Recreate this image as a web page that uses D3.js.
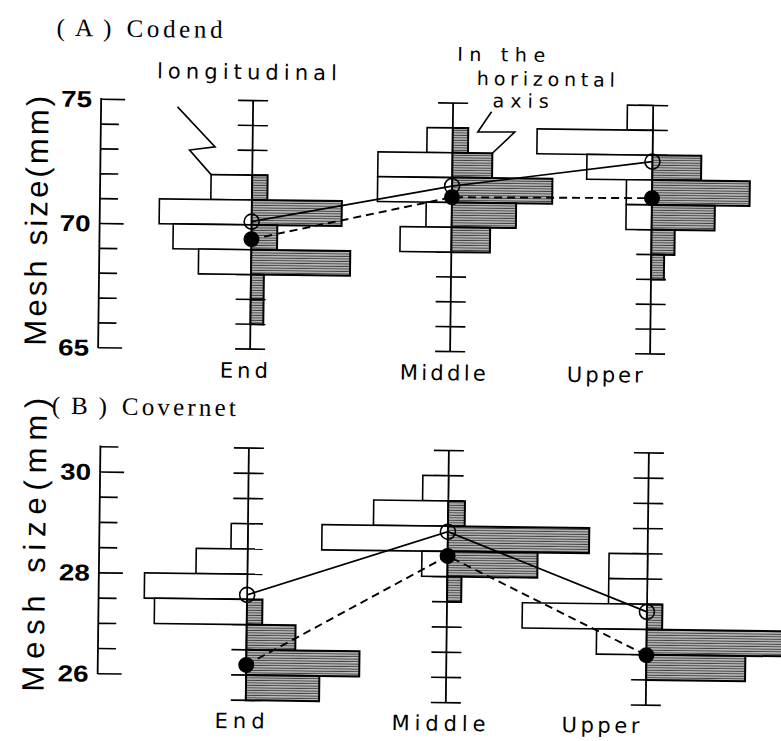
<!DOCTYPE html>
<html>
<head>
<meta charset="utf-8">
<script src="https://cdn.jsdelivr.net/npm/d3@7"></script>
<style>
  html, body { margin: 0; padding: 0; background: #fff; }
  svg { display: block; }
</style>
</head>
<body>
<svg id="chart" width="781" height="741"></svg>
<script>
// Net sections along the x direction
const categories = ["End", "Middle", "Upper"];

// (A) Codend, 1-mm classes: [upper class edge (mm), frequency (%)]
const codendLongitudinal = [
  [[72, 16], [71, 36], [70, 30.5], [69, 20.5]],
  [[74, 10], [73, 29], [72, 29], [71, 10], [70, 20]],
  [[75, 10], [74, 45], [73, 25.5], [72, 10], [71, 10]]
];
const codendHorizontal = [
  [[72, 6], [71, 35], [70, 10], [69, 38.5], [68, 5], [67, 5]],
  [[74, 6], [73, 15.5], [72, 39], [71, 25], [70, 15]],
  [[73, 19], [72, 38], [71, 24.5], [70, 9], [69, 5]]
];
const codendLongMean = [70.13, 71.66, 72.74];
const codendHorizMean = [69.42, 71.21, 71.27];

// (B) Covernet, 0.5-mm classes: [upper class edge (mm), frequency (%)]
const covernetLongitudinal = [
  [[29, 6.5], [28.5, 20], [28, 40], [27.5, 36]],
  [[30, 10], [29.5, 29], [29, 49], [28.5, 10]],
  [[28.5, 15], [28, 15], [27.5, 48.5], [27, 19.5]]
];
const covernetHorizontal = [
  [[27.5, 6], [27, 19], [26.5, 44], [26, 28.5]],
  [[29.5, 6.5], [29, 55], [28.5, 35], [28, 5.5]],
  [[27.5, 6], [27, 54], [26.5, 38.5]]
];
const covernetLongMean = [27.59, 28.89, 27.35];
const covernetHorizMean = [26.2, 28.41, 26.49];

const codendTickLabels = [65, 70, 75];
const covernetTickLabels = [26, 28, 30];

// ---------------------------------------------------------------
const svg = d3.select("#chart");
const defs = svg.append("defs");
const hatch = defs.append("pattern")
  .attr("id", "hatch").attr("patternUnits", "userSpaceOnUse")
  .attr("width", 6).attr("height", 2.5);
hatch.append("rect").attr("width", 6).attr("height", 2.5).attr("fill", "#bcbcbc");
hatch.append("rect").attr("y", 1.5).attr("width", 6).attr("height", 1).attr("fill", "#404040");

// the printed figure sits slightly skewed on the page
const root = svg.append("g").attr("transform", "rotate(0.7 390 400)");

const xs = d3.scaleLinear().domain([0, 100]).range([0, 257]);
const cx = d3.scalePoint().domain(categories).range([249.5, 649.5]);

const sansLabel = "'DejaVu Sans', sans-serif";

const panels = [
  {
    y: d3.scaleLinear().domain([65, 75]).range([350.8, 102.3]),
    step: 1, leftX: 97.5, leftDomain: [65, 75], catDomain: [65, 75],
    labels: codendTickLabels,
    long: codendLongitudinal, horiz: codendHorizontal,
    longMean: codendLongMean, horizMean: codendHorizMean,
    title: ["(A)", "Codend"], titleY: 40, titleLen: 96,
    yTitle: "Mesh size(mm)", yTitleLen: 250, yTitleX: 45, yTitleMid: 225,
    catY: 379.5, catLens: [48, 86, 76]
  },
  {
    y: d3.scaleLinear().domain([25.5, 30.5]).range([702, 449.8]),
    step: 0.5, leftX: 101, leftDomain: [26, 30.5], catDomain: [25.5, 30.5],
    labels: covernetTickLabels,
    long: covernetLongitudinal, horiz: covernetHorizontal,
    longMean: covernetLongMean, horizMean: covernetHorizMean,
    title: ["(B)", "Covernet"], titleY: 418, titleLen: 114,
    yTitle: "Mesh  size(mm)", yTitleLen: 294, yTitleX: 47, yTitleMid: 549,
    catY: 730, catLens: [50, 94, 78]
  }
];

const catShift = [-6, -7, -45];

panels.forEach((p) => {
  const y = p.y;
  const g = root.append("g");
  const eps = p.step / 2;

  // left value axis: ticks to the right of the spine
  const leftTicks = d3.range(p.leftDomain[0], p.leftDomain[1] + eps, p.step);
  const ax = g.append("g").attr("transform", `translate(${p.leftX},0)`)
    .call(d3.axisRight(y).tickValues(leftTicks).tickSize(18).tickSizeOuter(0).tickFormat(""));
  ax.select(".domain").remove();
  ax.selectAll(".tick line")
    .attr("stroke", "#000").attr("stroke-width", 1.7)
    .attr("x2", d => p.labels.includes(d) ? 24 : 18);
  g.append("line")
    .attr("x1", p.leftX).attr("x2", p.leftX)
    .attr("y1", y(p.leftDomain[0]) + 0.8).attr("y2", y(p.leftDomain[1]) - 0.8)
    .attr("stroke", "#000").attr("stroke-width", 1.8);
  g.selectAll("text.tl").data(p.labels).join("text")
    .attr("class", "tl")
    .attr("x", p.leftX - 9).attr("y", d => y(d) + 8.5)
    .attr("text-anchor", "end")
    .attr("font-family", "'Liberation Sans', Arial, sans-serif")
    .attr("font-weight", "bold").attr("font-size", 23)
    .attr("textLength", 31).attr("lengthAdjust", "spacingAndGlyphs")
    .text(d => d);

  // category axes with crossing ticks
  const catTicks = d3.range(p.catDomain[0], p.catDomain[1] + eps, p.step);
  categories.forEach((c, ci) => {
    const x0 = cx(c);
    const cg = g.append("g");
    cg.selectAll("line.ct").data(catTicks).join("line")
      .attr("x1", x0 - 15).attr("x2", x0 + 15)
      .attr("y1", d => y(d)).attr("y2", d => y(d))
      .attr("stroke", "#000").attr("stroke-width", 1.6);
    cg.append("line")
      .attr("x1", x0).attr("x2", x0)
      .attr("y1", y(p.catDomain[0])).attr("y2", y(p.catDomain[1]))
      .attr("stroke", "#000").attr("stroke-width", 1.8);

    // longitudinal: open bars to the left
    cg.selectAll("rect.lb").data(p.long[ci]).join("rect")
      .attr("x", d => x0 - xs(d[1])).attr("width", d => xs(d[1]))
      .attr("y", d => y(d[0])).attr("height", d => y(d[0] - p.step) - y(d[0]))
      .attr("fill", "#fff").attr("stroke", "#000").attr("stroke-width", 1.6);

    // horizontal axis: shaded bars to the right
    cg.selectAll("rect.hb").data(p.horiz[ci]).join("rect")
      .attr("x", x0).attr("width", d => xs(d[1]))
      .attr("y", d => y(d[0])).attr("height", d => y(d[0] - p.step) - y(d[0]))
      .attr("fill", "url(#hatch)").attr("stroke", "#000").attr("stroke-width", 2);

    g.append("text")
      .attr("x", x0 + catShift[ci]).attr("y", p.catY)
      .attr("text-anchor", "middle")
      .attr("font-family", sansLabel).attr("font-size", 21)
      .attr("textLength", p.catLens[ci]).attr("lengthAdjust", "spacing")
      .text(c);
  });

  // mean lines
  const line = d3.line().x((d, i) => cx(categories[i])).y(d => y(d));
  g.append("path").datum(p.longMean).attr("d", line)
    .attr("fill", "none").attr("stroke", "#000").attr("stroke-width", 1.7);
  g.append("path").datum(p.horizMean).attr("d", line)
    .attr("fill", "none").attr("stroke", "#000").attr("stroke-width", 1.9)
    .attr("stroke-dasharray", "8,5");

  g.selectAll("circle.om").data(p.longMean).join("circle")
    .attr("cx", (d, i) => cx(categories[i])).attr("cy", d => y(d)).attr("r", 7.5)
    .attr("fill", "none").attr("stroke", "#000").attr("stroke-width", 1.6);
  g.selectAll("circle.fm").data(p.horizMean).join("circle")
    .attr("cx", (d, i) => cx(categories[i])).attr("cy", d => y(d)).attr("r", 8)
    .attr("fill", "#000");

  // panel title
  const t = g.append("text")
    .attr("y", p.titleY)
    .attr("font-family", "'Liberation Serif', 'DejaVu Serif', serif")
    .attr("font-size", 25);
  t.append("tspan").attr("x", 52).attr("textLength", 55).attr("lengthAdjust", "spacing").text(p.title[0]);
  t.append("tspan").attr("x", 122).attr("textLength", p.titleLen).attr("lengthAdjust", "spacing").text(p.title[1]);

  // y axis title
  g.append("text")
    .attr("transform", `translate(${p.yTitleX},${p.yTitleMid}) rotate(-90)`)
    .attr("text-anchor", "middle")
    .attr("font-family", "'Liberation Sans', Arial, sans-serif")
    .attr("font-size", 31)
    .attr("textLength", p.yTitleLen).attr("lengthAdjust", "spacing")
    .text(p.yTitle);
});

// annotations in panel A
const yA = panels[0].y;
const ann = root.append("g").attr("font-family", sansLabel).attr("font-size", 19);
ann.append("text").attr("x", 153).attr("y", 81).attr("font-size", 21)
  .attr("textLength", 180).attr("lengthAdjust", "spacing").text("longitudinal");
ann.append("text").attr("x", 453).attr("y", 60).attr("textLength", 88).attr("lengthAdjust", "spacing").text("In the");
ann.append("text").attr("x", 473).attr("y", 84).attr("textLength", 138).attr("lengthAdjust", "spacing").text("horizontal");
ann.append("text").attr("x", 489).attr("y", 106).attr("textLength", 56).attr("lengthAdjust", "spacing").text("axis");

const leadA = codendLongitudinal[0][0];
const leadB = codendHorizontal[1][1];
const leader = d3.line();
root.append("path")
  .attr("d", leader([[174, 109.5], [212, 149], [186.5, 152.5],
    [cx("End") - xs(leadA[1]), yA(leadA[0])]]))
  .attr("fill", "none").attr("stroke", "#000").attr("stroke-width", 1.6);
root.append("path")
  .attr("d", leader([[488, 110.5], [474.5, 131], [511.5, 130.5],
    [cx("Middle") + xs(leadB[1]), yA(leadB[0])]]))
  .attr("fill", "none").attr("stroke", "#000").attr("stroke-width", 1.6);
</script>
</body>
</html>
